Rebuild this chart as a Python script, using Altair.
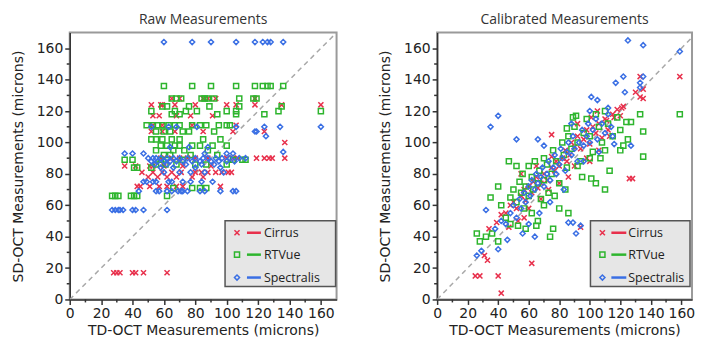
import altair as alt
import pandas as pd

# ---------------- data ----------------
# Raw measurements
raw_cirrus_x = [28,30,32,40,42,47,62,
                52,58,59,67,80,100,106,118,135,160,
                65,70,85,88,93,118,
                53,57,68,77,91,
                53,59,78,106,
                52,59,67,85,104,124,
                137,
                88,100,104,107,119,124,127,129,137,60,65,70,75,80,58,
                35,42,51,53,60,72,90,
                46,53,59,65,71,80,84,88,93,97,101,103,
                50,56,62,68,78,85,
                43,45,51,57,62,68,72,96]
raw_cirrus_y = [17,17,17,17,17,17,17,
                124,124,124,124,124,124,124,124,124,124,
                128,128,128,128,128,128,
                117,117,117,117,117,
                111,111,111,111,
                107,107,107,107,107,107,
                100,
                90,90,90,90,90,90,90,90,90,90,90,90,90,90,90,
                85,85,85,85,85,85,85,
                81,81,81,81,81,81,81,81,81,81,81,81,
                78,78,78,78,78,78,
                72,72,72,72,72,72,72,72]

raw_rtvue_x = [60,78,90,106,118,123,126,128,136,
               65,68,71,84,86,88,92,108,117,119,
               59,62,76,89,108,135,
               52,67,74,81,100,106,133,160,
               65,70,94,106,124,
               49,53,56,59,63,67,70,78,83,87,95,100,102,
               55,60,64,72,76,92,
               52,55,59,65,70,85,96,
               62,70,78,83,91,100,58,67,
               55,66,73,88,
               60,64,77,94,
               35,40,110,112,104,58,72,
               55,61,68,80,87,100,
               41,43,52,
               78,83,87,66,
               27,29,31,39,41,43,62]
raw_rtvue_y = [136]*9 + [128]*10 + [123]*6 + [120]*8 + [118]*5 + [111]*13 + \
              [107]*6 + [102]*7 + [98]*8 + [95]*4 + [92]*4 + [89]*7 + [86]*6 + \
              [84]*3 + [71]*4 + [66]*7

raw_spec_x = [60,78,90,106,118,123,126,128,136,
              52,63,68,81,106,124,134,160,
              118,119,
              125,
              136,
              35,40,47,86,100,104,
              50,53,55,58,62,66,70,75,80,85,88,93,97,102,108,112,
              52,56,60,64,68,72,78,83,90,95,100,105,
              54,62,74,84,92,
              58,66,80,96,
              60,70,77,86,98,
              47,49,53,55,63,65,72,77,84,91,
              55,57,62,65,69,71,72,75,83,86,104,106,44,96,
              27,29,31,32,34,40,42,47,62,
              64,76,88]
raw_spec_y = [164]*9 + [110]*8 + [107]*2 + [104] + [94] + [93]*6 + [90]*16 + \
             [88]*12 + [86]*5 + [84]*4 + [81]*5 + [75]*10 + [69]*14 + [57]*9 + [97]*3

# Calibrated measurements
cal_cirrus_x = [25,28,40,42,62,31,33,39,34,42,47,94,
                133,135,133,135,159,122,121,105,126,128,75,75,55,92,101,111,116,
                45,48,50,52,55,57,58,60,62,63,65,66,68,70,72,73,75,77,78,80,82,84,85,87,
                88,90,92,94,96,98,100,102,104,106,108,110,112,115,118,120,98,100,60,68,
                53,57,80,90,106,113,130,65,86]
cal_cirrus_y = [15,15,15,4,23,28,25,49,45,54,46,46,
                142,134,129,128,142,123,122,120,77,77,105,91,80,112,116,114,116,
                55,60,62,58,66,70,63,72,68,75,78,71,74,80,76,70,84,82,88,85,90,95,88,92,
                100,97,104,96,102,108,99,110,106,112,103,115,108,118,121,117,90,88,58,64,
                50,52,74,85,95,104,132,85,78]

cal_rtvue_x = [26,28,32,40,74,76,65,80,86,35,40,47,52,104,110,101,113,89,85,91,
               133,159,135,135,122,124,127,
               42,45,48,50,52,54,55,56,58,60,60,62,63,64,66,67,68,70,70,72,73,75,76,78,
               80,82,83,85,86,88,90,92,94,96,98,100,102,104,106,108,110,112,115,118,120,
               95,62,57,70,77,84,66,53,58,92,100,107,48,36,110,120,125]
cal_rtvue_y = [42,37,40,37,40,45,47,58,55,65,72,88,85,74,70,77,82,116,109,117,
               118,118,107,91,98,113,113,
               60,52,65,70,62,75,68,80,72,66,85,78,70,88,74,82,64,90,76,86,68,80,95,88,
               74,100,92,84,104,96,110,100,88,106,115,104,94,118,110,100,120,112,104,116,108,
               78,55,58,60,66,70,50,47,45,85,90,90,48,42,95,95,102]

cal_spec_x = [125,135,159,122,117,135,133,133,123,101,105,112,40,35,52,66,127,116,
              32,26,29,40,86,89,91,94,64,
              38,42,45,48,50,52,54,55,57,58,60,61,62,64,65,66,68,69,70,72,73,74,76,77,78,
              80,81,82,84,85,86,88,89,90,92,93,95,96,98,99,100,102,104,105,108,110,112,114,
              56,60,67,74,83,46,70,96,106,115,88,100]
cal_spec_y = [165,162,158,142,138,142,138,135,132,129,127,122,117,110,102,102,98,99,
              57,28,31,32,49,49,42,47,40,
              45,50,48,55,60,52,64,58,68,62,72,66,76,70,80,74,78,84,72,80,88,76,84,92,80,
              86,96,90,82,94,100,92,104,96,88,100,108,98,104,112,100,108,115,102,112,106,118,110,
              42,48,55,62,70,38,98,88,94,104,112,120]

series_names = ["Cirrus", "RTVue", "Spectralis"]
series_colors = ["#e8304c", "#2eb52e", "#3a6fe4"]
X_PATH = "M-1,-1L1,1M-1,1L1,-1"
series_shapes = [X_PATH, "square", "diamond"]
tick_values = [0, 20, 40, 60, 80, 100, 120, 140, 160]
minor_values = [10, 30, 50, 70, 90, 110, 130, 150]

FONT = "DejaVu Sans"
H = 268


def make_panel(title, xs_list, ys_list, width, xmax, legend):
    xscale = alt.Scale(domain=[0, xmax], nice=False, zero=True)
    yscale = alt.Scale(domain=[0, 170], nice=False, zero=True)
    xaxis = alt.Axis(values=tick_values, title="TD-OCT Measurements (microns)",
                     grid=False, tickSize=5, labelPadding=2, titlePadding=3,
                     labelOverlap=False, labelFlush=False)
    yaxis = alt.Axis(values=tick_values, title="SD-OCT Measurements (microns)",
                     grid=False, tickSize=5, labelPadding=2, titlePadding=11,
                     labelOverlap=False, labelFlush=False)

    def X(f):
        return alt.X(f, scale=xscale, axis=xaxis)

    def Y(f):
        return alt.Y(f, scale=yscale, axis=yaxis)

    diag = pd.DataFrame({"a": [0, 170], "b": [0, 170]})
    line = alt.Chart(diag).mark_line(color="#a8a8a8", strokeDash=[5, 4], strokeWidth=1.5, clip=True).encode(
        x=X("a:Q"), y=Y("b:Q"))
    layers = [line]

    # minor ticks
    minor = pd.DataFrame({"v": minor_values})
    layers.append(alt.Chart(minor).mark_rule(color="#333", strokeWidth=1.5).encode(
        x=X("v:Q"), y=alt.value(H), y2=alt.value(H + 3)))
    layers.append(alt.Chart(minor).mark_rule(color="#333", strokeWidth=1.5).encode(
        y=Y("v:Q"), x=alt.value(0), x2=alt.value(-3)))

    for name, col, shp, xv, yv in zip(series_names, series_colors, series_shapes, xs_list, ys_list):
        df = pd.DataFrame({"x": xv, "y": yv})
        layers.append(alt.Chart(df).mark_point(shape=shp, filled=False, size=26, strokeWidth=1.5,
                                               color=col, opacity=1).encode(
            x=X("x:Q"), y=Y("y:Q")))

    # legend box
    one = pd.DataFrame({"k": [0]})
    bx0, bx1, by0, by1, mx, lx0, lx1, tx, rows = legend
    layers.append(alt.Chart(one).mark_rect(fill="#e6e6e6", stroke="#555", strokeWidth=1.5).encode(
        x=alt.value(bx0), x2=alt.value(bx1), y=alt.value(by0), y2=alt.value(by1)))
    for name, col, shp, ry in zip(series_names, series_colors, series_shapes, rows):
        layers.append(alt.Chart(one).mark_point(shape=shp, filled=False, size=26, strokeWidth=1.5,
                                                color=col, opacity=1).encode(
            x=alt.value(mx), y=alt.value(ry)))
        layers.append(alt.Chart(one).mark_rule(color=col, strokeWidth=2.5).encode(
            x=alt.value(lx0), x2=alt.value(lx1), y=alt.value(ry)))
        layers.append(alt.Chart(one).mark_text(text=name, align="left", baseline="middle",
                                               font="Open Sans", fontSize=12.5, color="#222").encode(
            x=alt.value(tx), y=alt.value(ry)))

    return alt.layer(*layers).properties(
        width=width, height=H,
        title=alt.TitleParams(title, fontSize=14, font="Open Sans", fontWeight="normal",
                              color="#333", offset=6, anchor="middle"),
    )


left = make_panel("Raw Measurements",
                  [raw_cirrus_x, raw_rtvue_x, raw_spec_x],
                  [raw_cirrus_y, raw_rtvue_y, raw_spec_y],
                  268, 170,
                  (156, 267, 189, 255, 168, 178, 192, 195, [201, 223, 246]))
right = make_panel("Calibrated Measurements",
                   [cal_cirrus_x, cal_rtvue_x, cal_spec_x],
                   [cal_cirrus_y, cal_rtvue_y, cal_spec_y],
                   256, 167,
                   (154, 254, 189, 255, 166, 175, 190, 192, [201, 223, 246]))

chart = alt.hconcat(left, right, spacing=40).properties(
    padding={"left": 2, "top": 3, "right": 0, "bottom": 0}
).configure_view(
    stroke="#9a9a9a", strokeWidth=2
).configure_axis(
    domainColor="#333", domainWidth=1.5, tickColor="#333", tickWidth=1.5,
    labelFont=FONT, labelFontSize=14, labelColor="#222", labelOverlap=False,
    titleFont=FONT, titleFontSize=14, titleColor="#222", titleFontWeight="normal",
)

chart.save("out.html", embed_options={"renderer": "svg", "actions": False})
